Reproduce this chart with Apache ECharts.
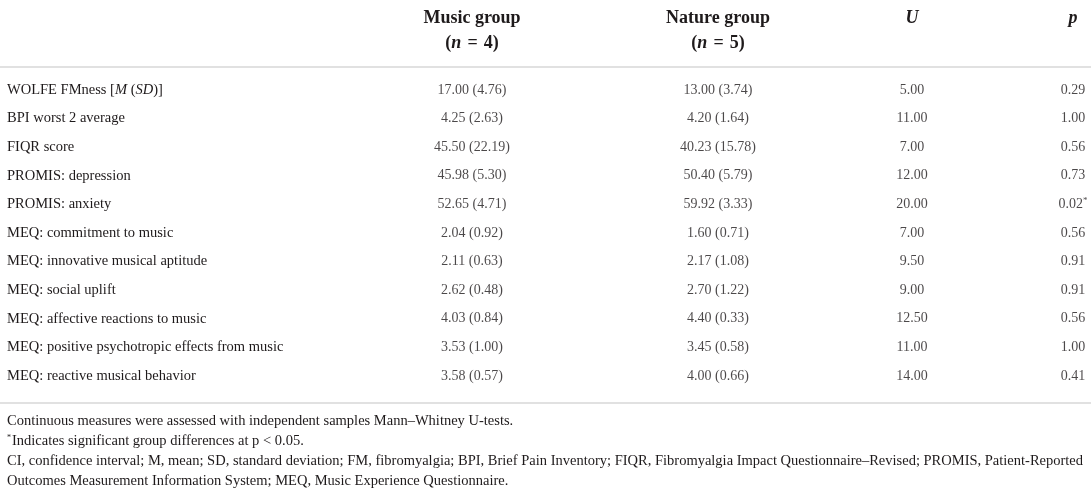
<!DOCTYPE html>
<html>
<head>
<meta charset="utf-8">
<script src="https://cdn.jsdelivr.net/npm/echarts@6/dist/echarts.min.js"></script>
<style>
html,body{margin:0;padding:0;background:#fff;}
#chart{width:1091px;height:492px;}
</style>
</head>
<body>
<div id="chart"></div>
<script>
// ---- data ----
const rowLabels = [
  'WOLFE FMness [M (SD)]',
  'BPI worst 2 average',
  'FIQR score',
  'PROMIS: depression',
  'PROMIS: anxiety',
  'MEQ: commitment to music',
  'MEQ: innovative musical aptitude',
  'MEQ: social uplift',
  'MEQ: affective reactions to music',
  'MEQ: positive psychotropic effects from music',
  'MEQ: reactive musical behavior'
];
const musicMean = [17.00, 4.25, 45.50, 45.98, 52.65, 2.04, 2.11, 2.62, 4.03, 3.53, 3.58];
const musicSD   = [4.76, 2.63, 22.19, 5.30, 4.71, 0.92, 0.63, 0.48, 0.84, 1.00, 0.57];
const natureMean = [13.00, 4.20, 40.23, 50.40, 59.92, 1.60, 2.17, 2.70, 4.40, 3.45, 4.00];
const natureSD   = [3.74, 1.64, 15.78, 5.79, 3.33, 0.71, 1.08, 1.22, 0.33, 0.58, 0.66];
const uValues = [5.00, 11.00, 7.00, 12.00, 20.00, 7.00, 9.50, 9.00, 12.50, 11.00, 14.00];
const pValues = [0.29, 1.00, 0.56, 0.73, 0.02, 0.56, 0.91, 0.91, 0.56, 1.00, 0.41];
const significant = [false, false, false, false, true, false, false, false, false, false, false];
const groupNames = ['Music group', 'Nature group'];
const groupN = [4, 5];
const footnotes = [
  'Continuous measures were assessed with independent samples Mann\u2013Whitney U-tests.',
  '{sup|*}Indicates significant group differences at p < 0.05.',
  'CI, confidence interval; M, mean; SD, standard deviation; FM, fibromyalgia; BPI, Brief Pain Inventory; FIQR, Fibromyalgia Impact Questionnaire\u2013Revised; PROMIS, Patient-Reported',
  'Outcomes Measurement Information System; MEQ, Music Experience Questionnaire.'
];

// ---- layout / style ----
const W = 1091;
const FONT = '"Liberation Serif", "Times New Roman", serif';
const TXT = '#1e1a1b';
const RULE = '#c4c4c4';
const L = {
  labelX: 7,
  cols: [472, 718, 912, 1073],
  head1: 18, head2: 43,
  topRule: 67,
  firstRow: 90, rowStep: 28.6,
  bottomRule: 403,
  notesY: [421, 441, 461, 481],
  labelSize: 14.5, numSize: 14, headSize: 18
};

const fmt2 = v => v.toFixed(2);
const colTexts = [
  musicMean.map((m, i) => fmt2(m) + ' (' + fmt2(musicSD[i]) + ')'),
  natureMean.map((m, i) => fmt2(m) + ' (' + fmt2(natureSD[i]) + ')'),
  uValues.map(fmt2),
  pValues.map((p, i) => significant[i] ? '{n|' + fmt2(p) + '}{sup|*}' : fmt2(p))
];

const numRich = {
  n: {fontFamily: FONT, fontSize: L.numSize, color: TXT},
  sup: {fontFamily: FONT, fontSize: 9, color: TXT, verticalAlign: 'top', padding: [0, 0, 7, 0]}
};
const labelRich = {
  i: {fontFamily: FONT, fontSize: L.labelSize, color: TXT, fontStyle: 'italic'}
};

const series = colTexts.map((texts, j) => ({
  type: 'scatter',
  symbolSize: 1,
  itemStyle: {color: 'rgba(0,0,0,0)'},
  silent: true,
  data: texts.map((t, i) => [L.cols[j], i]),
  label: {
    show: true, position: 'inside',
    fontFamily: FONT, fontSize: L.numSize, color: TXT,
    formatter: p => texts[p.dataIndex],
    rich: numRich
  },
  emphasis: {disabled: true}
}));

const graphic = [];
// header
groupNames.forEach((g, j) => {
  graphic.push({type: 'text', x: L.cols[j], y: L.head1, style: {
    text: g, align: 'center', verticalAlign: 'middle',
    font: 'bold ' + L.headSize + 'px ' + FONT, fill: TXT}});
  graphic.push({type: 'text', x: L.cols[j], y: L.head2, style: {
    text: '({it|n}\u2004=\u2004' + groupN[j] + ')', align: 'center', verticalAlign: 'middle',
    font: 'bold ' + L.headSize + 'px ' + FONT, fill: TXT,
    rich: {it: {fontStyle: 'italic', fontWeight: 'bold', fontSize: L.headSize, fontFamily: FONT, fill: TXT}}}});
});
['U', 'p'].forEach((h, k) => {
  graphic.push({type: 'text', x: L.cols[2 + k], y: L.head1, style: {
    text: h, align: 'center', verticalAlign: 'middle',
    font: 'italic bold ' + L.headSize + 'px ' + FONT, fill: TXT}});
});
// rules
[L.topRule, L.bottomRule].forEach(y => {
  graphic.push({type: 'line', shape: {x1: 0, y1: y, x2: W, y2: y},
    style: {stroke: RULE, lineWidth: 1.2}});
});
// footnotes
footnotes.forEach((t, k) => {
  graphic.push({type: 'text', x: L.labelX, y: L.notesY[k], style: {
    text: t, align: 'left', verticalAlign: 'middle',
    font: L.labelSize + 'px ' + FONT, fill: TXT,
    rich: {sup: {fontSize: 8, fontFamily: FONT, fill: TXT, verticalAlign: 'top', padding: [0, 1, 7, 0]}}}});
});

const chart = echarts.init(document.getElementById('chart'), null, {renderer: 'canvas'});
chart.setOption({
  animation: false,
  backgroundColor: '#fff',
  grid: {left: 0, right: 0, top: L.firstRow - L.rowStep / 2, height: L.rowStep * rowLabels.length, containLabel: false},
  xAxis: {type: 'value', min: 0, max: W, show: false},
  yAxis: {
    type: 'category', inverse: true, data: rowLabels,
    axisLine: {show: false}, axisTick: {show: false}, splitLine: {show: false},
    axisLabel: {
      inside: true, margin: L.labelX, align: 'left',
      fontFamily: FONT, fontSize: L.labelSize, color: TXT,
      formatter: v => v === 'WOLFE FMness [M (SD)]' ? 'WOLFE FMness [{i|M} ({i|SD})]' : v,
      rich: labelRich
    }
  },
  series: series,
  graphic: graphic
});
</script>
</body>
</html>
